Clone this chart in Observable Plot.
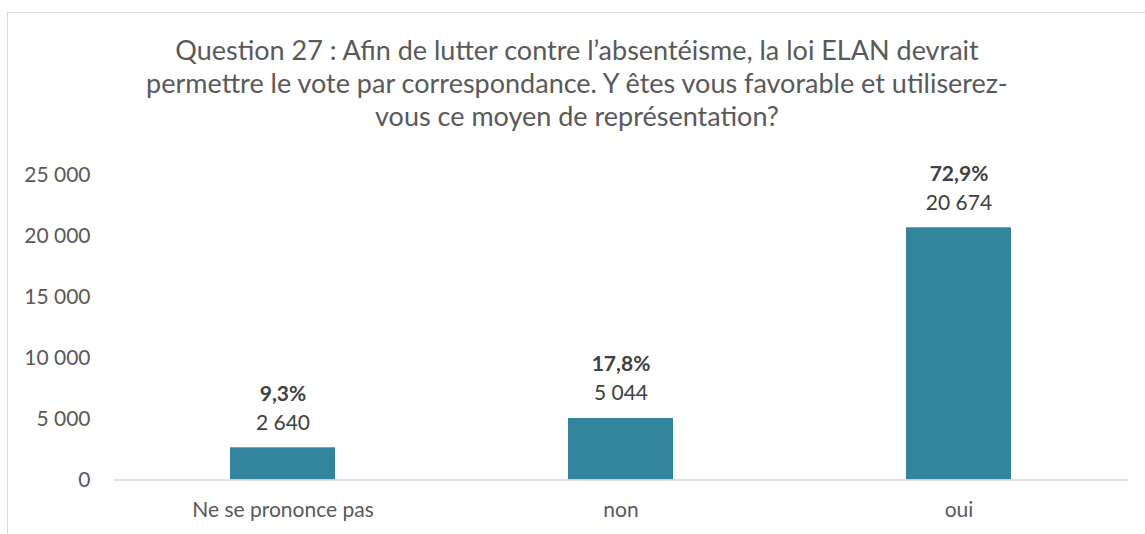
<!DOCTYPE html>
<html>
<head>
<meta charset="utf-8">
<script src="https://cdn.jsdelivr.net/npm/d3@7"></script>
<script src="https://cdn.jsdelivr.net/npm/@observablehq/plot@0.6"></script>
<style>
  html, body { margin: 0; padding: 0; background: #fff; }
  body { width: 1145px; height: 534px; position: relative; overflow: hidden; font-family: Lato, "Open Sans", sans-serif; }
  #frame { position: absolute; left: 7px; top: 12px; width: 1160px; height: 600px; border-left: 1px solid #d9d9d9; border-top: 1px solid #d9d9d9; }
  #title { position: absolute; left: 0; top: 33px; width: 1154px; text-align: center; font-size: 27px; line-height: 33px; color: #595959; white-space: nowrap; }
  #chart { position: absolute; left: 0; top: 140px; }
</style>
</head>
<body>
<div id="frame"></div>
<div id="title">Question 27 : Afin de lutter contre l’absentéisme, la loi ELAN devrait<br>permettre le vote par correspondance. Y êtes vous favorable et utiliserez-<br>vous ce moyen de représentation?</div>
<div id="chart"></div>
<script>
const categories = ["Ne se prononce pas", "non", "oui"];
const values = [2640, 5044, 20674];
const percents = ["9,3%", "17,8%", "72,9%"];
const yTicks = [0, 5000, 10000, 15000, 20000, 25000];

const data = categories.map((c, i) => ({cat: c, value: values[i], pct: percents[i]}));
const fmt = d => d3.format(",")(d).replace(/,/g, " ");

const plot = Plot.plot({
  width: 1145,
  height: 394,
  marginTop: 34.5,
  marginBottom: 54.5,
  marginLeft: 113.5,
  marginRight: 17,
  style: {fontFamily: "Lato, 'Open Sans', sans-serif", fontSize: "21px", color: "#595959", background: "transparent"},
  x: {domain: categories, paddingInner: 0.69, paddingOuter: 0.345, label: null, tickSize: 0, tickPadding: 22},
  y: {domain: [0, 25000], ticks: yTicks, tickFormat: fmt, label: null, tickSize: 0, tickPadding: 23.5},
  marks: [
    Plot.barY(data, {x: "cat", y: "value", fill: "#31849b"}),
    Plot.ruleY([0], {stroke: "#d9d9d9", strokeWidth: 1.3}),
    Plot.text(data, {x: "cat", y: "value", text: d => fmt(d.value), dy: -25, fill: "#404040", fontSize: 21}),
    Plot.text(data, {x: "cat", y: "value", text: "pct", dy: -54, fill: "#404040", fontSize: 21, fontWeight: "bold"})
  ]
});
document.getElementById("chart").appendChild(plot);
</script>
</body>
</html>
